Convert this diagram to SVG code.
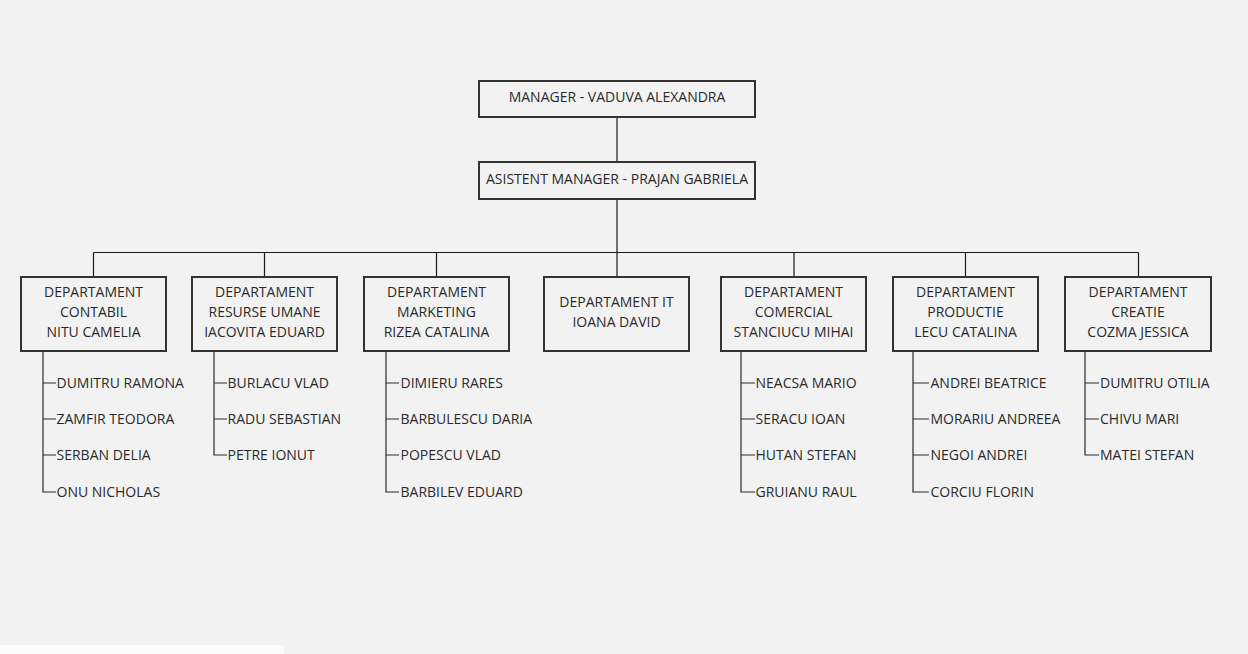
<svg xmlns="http://www.w3.org/2000/svg" width="1248" height="654" viewBox="0 0 1248 654">
<style>
.bg{fill:#f2f2f2}
.box{fill:#f2f2f2;stroke:#333;stroke-width:2}
.t{font-family:"Open Sans","Liberation Sans",sans-serif;font-size:14px;fill:#2a2a2a}
.c{text-anchor:middle}
.ln{stroke:#1a1a1a;stroke-width:1.2;fill:none}
.br{stroke:#2a2a2a;stroke-width:1.2;fill:none}
</style>
<rect class="bg" x="0" y="0" width="1248" height="654"/>
<path d="M0 645 H280 Q284 645 284 649 V654 H0 Z" fill="#fcfcfc"/>

<g id="connectors">
<path class="ln" d="M617 117 V162 M617 199 V277 M93.5 252.5 H1138.5 M93.5 252.5 V277 M264.5 252.5 V277 M436.5 252.5 V277 M794 252.5 V277 M965.5 252.5 V277 M1138.5 252.5 V277"/>
<path class="br" d="M43 351 V492 H56 M43 383 H56 M43 419 H56 M43 455 H56"/>
<path class="br" d="M214 351 V455 H227 M214 383 H227 M214 419 H227"/>
<path class="br" d="M386 351 V492 H399 M386 383 H399 M386 419 H399 M386 455 H399"/>
<path class="br" d="M741 351 V492 H755 M741 383 H755 M741 419 H755 M741 455 H755"/>
<path class="br" d="M913 351 V492 H929 M913 383 H929 M913 419 H929 M913 455 H929"/>
<path class="br" d="M1085 351 V455 H1099 M1085 383 H1099 M1085 419 H1099"/>
</g>

<g id="manager">
<rect class="box" x="479" y="81" width="276" height="36"/>
<text class="t c" x="617" y="102">MANAGER - VADUVA ALEXANDRA</text>
</g>
<g id="asistent">
<rect class="box" x="479" y="162" width="276" height="37"/>
<text class="t c" x="617" y="184">ASISTENT MANAGER - PRAJAN GABRIELA</text>
</g>

<g id="dep-contabil">
<rect class="box" x="21" y="277" width="145" height="74"/>
<text class="t c" x="93.5" y="297">DEPARTAMENT</text>
<text class="t c" x="93.5" y="317">CONTABIL</text>
<text class="t c" x="93.5" y="337">NITU CAMELIA</text>
<text class="t" x="56.5" y="387.5">DUMITRU RAMONA</text>
<text class="t" x="56.5" y="423.5">ZAMFIR TEODORA</text>
<text class="t" x="56.5" y="459.5">SERBAN DELIA</text>
<text class="t" x="56.5" y="496.5">ONU NICHOLAS</text>
</g>

<g id="dep-resurse">
<rect class="box" x="192" y="277" width="145" height="74"/>
<text class="t c" x="264.5" y="297">DEPARTAMENT</text>
<text class="t c" x="264.5" y="317">RESURSE UMANE</text>
<text class="t c" x="264.5" y="337">IACOVITA EDUARD</text>
<text class="t" x="227.5" y="387.5">BURLACU VLAD</text>
<text class="t" x="227.5" y="423.5">RADU SEBASTIAN</text>
<text class="t" x="227.5" y="459.5">PETRE IONUT</text>
</g>

<g id="dep-marketing">
<rect class="box" x="364" y="277" width="145" height="74"/>
<text class="t c" x="436.5" y="297">DEPARTAMENT</text>
<text class="t c" x="436.5" y="317">MARKETING</text>
<text class="t c" x="436.5" y="337">RIZEA CATALINA</text>
<text class="t" x="400.5" y="387.5">DIMIERU RARES</text>
<text class="t" x="400.5" y="423.5">BARBULESCU DARIA</text>
<text class="t" x="400.5" y="459.5">POPESCU VLAD</text>
<text class="t" x="400.5" y="496.5">BARBILEV EDUARD</text>
</g>

<g id="dep-it">
<rect class="box" x="544" y="277" width="145" height="74"/>
<text class="t c" x="616.5" y="307">DEPARTAMENT IT</text>
<text class="t c" x="616.5" y="327">IOANA DAVID</text>
</g>

<g id="dep-comercial">
<rect class="box" x="721" y="277" width="145" height="74"/>
<text class="t c" x="793.5" y="297">DEPARTAMENT</text>
<text class="t c" x="793.5" y="317">COMERCIAL</text>
<text class="t c" x="793.5" y="337">STANCIUCU MIHAI</text>
<text class="t" x="755.5" y="387.5">NEACSA MARIO</text>
<text class="t" x="755.5" y="423.5">SERACU IOAN</text>
<text class="t" x="755.5" y="459.5">HUTAN STEFAN</text>
<text class="t" x="755.5" y="496.5">GRUIANU RAUL</text>
</g>

<g id="dep-productie">
<rect class="box" x="893" y="277" width="145" height="74"/>
<text class="t c" x="965.5" y="297">DEPARTAMENT</text>
<text class="t c" x="965.5" y="317">PRODUCTIE</text>
<text class="t c" x="965.5" y="337">LECU CATALINA</text>
<text class="t" x="930.5" y="387.5">ANDREI BEATRICE</text>
<text class="t" x="930.5" y="423.5">MORARIU ANDREEA</text>
<text class="t" x="930.5" y="459.5">NEGOI ANDREI</text>
<text class="t" x="930.5" y="496.5">CORCIU FLORIN</text>
</g>

<g id="dep-creatie">
<rect class="box" x="1065" y="277" width="146" height="74"/>
<text class="t c" x="1138" y="297">DEPARTAMENT</text>
<text class="t c" x="1138" y="317">CREATIE</text>
<text class="t c" x="1138" y="337">COZMA JESSICA</text>
<text class="t" x="1100" y="387.5">DUMITRU OTILIA</text>
<text class="t" x="1100" y="423.5">CHIVU MARI</text>
<text class="t" x="1100" y="459.5">MATEI STEFAN</text>
</g>
</svg>
